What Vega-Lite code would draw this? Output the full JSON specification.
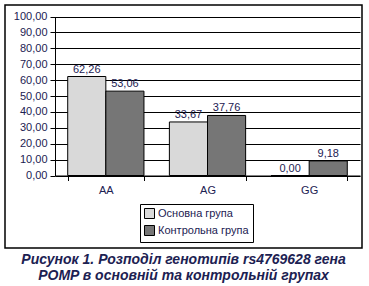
{
  "$schema": "https://vega.github.io/schema/vega-lite/v6.json",
  "width": 357,
  "height": 243,
  "padding": {"left": 5, "top": 5, "right": 7, "bottom": 4},
  "background": "white",
  "data": {
    "values": [
      {"genotype": "AA", "group": "Основна група", "value": 62.26, "label": "62,26"},
      {"genotype": "AA", "group": "Контрольна група", "value": 53.06, "label": "53,06"},
      {"genotype": "AG", "group": "Основна група", "value": 33.67, "label": "33,67"},
      {"genotype": "AG", "group": "Контрольна група", "value": 37.76, "label": "37,76"},
      {"genotype": "GG", "group": "Основна група", "value": 0.0, "label": "0,00"},
      {"genotype": "GG", "group": "Контрольна група", "value": 9.18, "label": "9,18"}
    ]
  },
  "title": {
    "text": ["Рисунок 1. Розподіл генотипів rs4769628 гена", "POMP в основній та контрольній групах"],
    "orient": "bottom",
    "anchor": "middle",
    "font": "Liberation Sans",
    "fontSize": 14,
    "fontWeight": "bold",
    "fontStyle": "italic",
    "color": "#1c2152",
    "offset": 5,
    "lineHeight": 16
  },
  "encoding": {
    "x": {
      "field": "genotype",
      "type": "nominal",
      "sort": ["AA", "AG", "GG"],
      "scale": {"range": [50, 355], "paddingInner": 0.25, "paddingOuter": 0.125},
      "axis": {
        "title": null,
        "labelAngle": 0,
        "offset": -72.5,
        "domainColor": "black",
        "tickColor": "black",
        "tickBand": "extent",
        "tickSize": 5,
        "labelPadding": 4,
        "labelFont": "Liberation Sans",
        "labelFontSize": 11,
        "labelColor": "#1c2152",
        "grid": false
      }
    },
    "y": {
      "field": "value",
      "type": "quantitative",
      "scale": {"domain": [0, 100], "range": [170.5, 11.5], "nice": false},
      "axis": {
        "title": null,
        "values": [0, 10, 20, 30, 40, 50, 60, 70, 80, 90, 100],
        "offset": -50,
        "labelExpr": "replace(format(datum.value, '.2f'), '.', ',')",
        "grid": true,
        "gridColor": "black",
        "gridOpacity": 1,
        "gridWidth": 1,
        "domainColor": "black",
        "tickColor": "black",
        "tickSize": 5,
        "labelPadding": 3,
        "labelFont": "Liberation Sans",
        "labelFontSize": 11,
        "labelColor": "#1c2152"
      }
    },
    "xOffset": {
      "field": "group",
      "type": "nominal",
      "sort": ["Основна група", "Контрольна група"],
      "scale": {"paddingInner": 0, "paddingOuter": 0}
    }
  },
  "layer": [
    {
      "mark": {"type": "bar", "stroke": "black", "strokeWidth": 1},
      "encoding": {
        "color": {
          "field": "group",
          "type": "nominal",
          "sort": ["Основна група", "Контрольна група"],
          "scale": {"range": ["#d9d9d9", "#767676"]},
          "legend": {
            "title": null,
            "orient": "none",
            "legendX": 135,
            "legendY": 199,
            "strokeColor": "black",
            "fillColor": "white",
            "padding": 4,
            "symbolType": "square",
            "symbolSize": 100,
            "symbolStrokeColor": "black",
            "symbolStrokeWidth": 1,
            "symbolFillOpacity": 1,
            "symbolOffset": 0,
            "labelOffset": 3,
            "labelFont": "Liberation Sans",
            "labelFontSize": 11,
            "labelColor": "#1c2152",
            "rowPadding": 2
          }
        }
      }
    },
    {
      "mark": {
        "type": "text",
        "baseline": "bottom",
        "dy": -2,
        "font": "Liberation Sans",
        "fontSize": 11,
        "color": "#1c2152"
      },
      "encoding": {"text": {"field": "label", "type": "nominal"}}
    }
  ],
  "config": {
    "view": {"stroke": "black", "strokeWidth": 1.5, "fill": "white"},
    "axis": {"domainWidth": 1, "tickWidth": 1}
  }
}
